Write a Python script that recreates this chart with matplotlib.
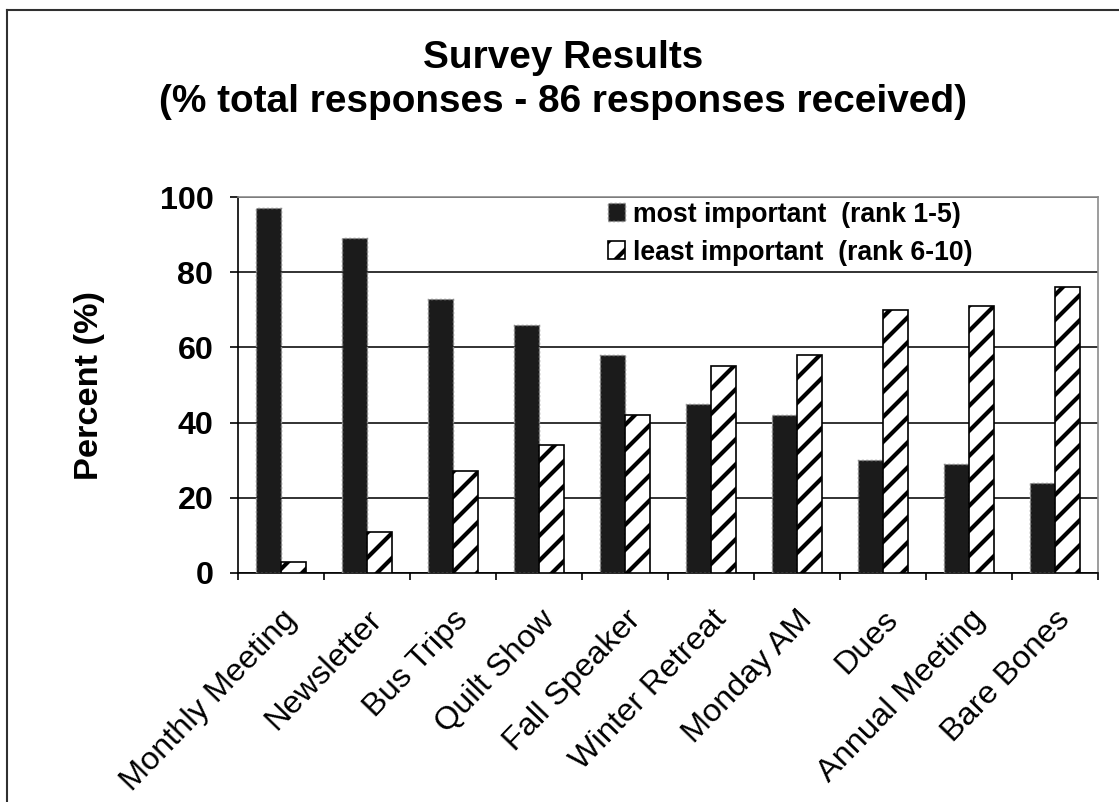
import matplotlib
matplotlib.use("Agg")
import matplotlib.pyplot as plt
import numpy as np
from matplotlib.lines import Line2D

plt.rcParams['font.family'] = ['Liberation Sans', 'DejaVu Sans']
plt.rcParams['hatch.linewidth'] = 2.0

categories = ["Monthly Meeting", "Newsletter", "Bus Trips", "Quilt Show", "Fall Speaker",
              "Winter Retreat", "Monday AM", "Dues", "Annual Meeting", "Bare Bones"]
most_important = [97, 89, 73, 66, 58, 45, 42, 30, 29, 24]
least_important = [3, 11, 27, 34, 42, 55, 58, 70, 71, 76]
series_labels = ["most important  (rank 1-5)", "least important  (rank 6-10)"]
yticks = [0, 20, 40, 60, 80, 100]

DPI = 150
W, H = 1119, 802
fig = plt.figure(figsize=(W / DPI, H / DPI), dpi=DPI)
fig.patch.set_facecolor('white')

left, right, top, bottom = 238, 1098, 197, 573
ax = fig.add_axes([left / W, (H - bottom) / H, (right - left) / W, (bottom - top) / H])

x = np.arange(len(categories))
bw = 0.29
off = 0.145
ax.bar(x - off, most_important, width=bw, color='#1b1b1b', edgecolor='#8a8a8a',
       linewidth=0.7, linestyle=(0, (1.5, 1.5)), zorder=3, label=series_labels[0])
ax.bar(x + off, least_important, width=bw, color='white', edgecolor='black',
       linewidth=0.8, hatch='//', zorder=3, label=series_labels[1])

ax.set_xlim(-0.5, len(categories) - 0.5)
ax.set_ylim(0, 100)
ax.set_yticks(yticks)
ax.set_yticklabels([str(v) for v in yticks], fontsize=15.5, fontweight='bold')
ax.yaxis.grid(True, color='black', linewidth=0.75, zorder=0)
ax.set_axisbelow(True)

ax.set_xticks(x)
ax.set_xticklabels(categories, rotation=46, ha='right', va='top', rotation_mode='anchor',
                   fontsize=15.6)
ax.set_xticks(np.arange(-0.5, len(categories), 1.0), minor=True)
ax.tick_params(axis='x', which='major', length=0, pad=15)
ax.tick_params(axis='x', which='minor', length=3.4, width=0.8, direction='out', color='black')
ax.tick_params(axis='y', which='major', length=3.8, width=0.8, direction='out', pad=8, color='black')

for s in ['left', 'bottom']:
    ax.spines[s].set_color('black')
    ax.spines[s].set_linewidth(0.8)
for s in ['top', 'right']:
    ax.spines[s].set_color('#8c8c8c')
    ax.spines[s].set_linewidth(0.8)

ax.set_ylabel("Percent (%)", fontsize=16.5, fontweight='bold', labelpad=26)

leg = ax.legend(loc='upper left', bbox_to_anchor=(0.43, 0.988), frameon=False,
                prop={'size': 12.8, 'weight': 'bold'}, handlelength=0.65, handleheight=0.65,
                handletextpad=0.3, labelspacing=0.45, borderpad=0, borderaxespad=0)

fig.text(563 / W, 1 - 80 / H, "Survey Results\n(% total responses - 86 responses received)",
         ha='center', va='center', fontsize=18.6, fontweight='bold', linespacing=1.32)

fig.add_artist(Line2D([7 / W, 1.0], [1 - 10 / H, 1 - 10 / H], transform=fig.transFigure,
                      color='#303030', linewidth=1.0))
fig.add_artist(Line2D([7 / W, 7 / W], [0.0, 1 - 10 / H], transform=fig.transFigure,
                      color='#303030', linewidth=1.0))

fig.savefig("out.png", dpi=DPI, facecolor='white')
